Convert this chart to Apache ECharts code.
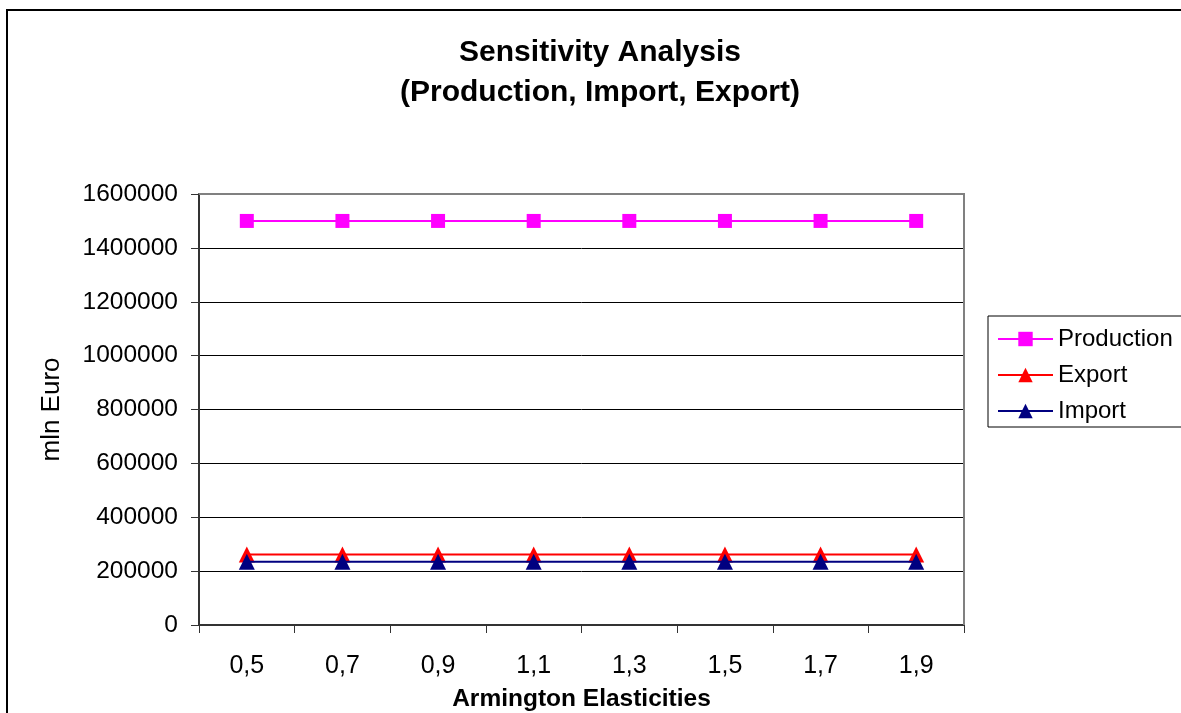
<!DOCTYPE html>
<html>
<head>
<meta charset="utf-8">
<title>Sensitivity Analysis</title>
<script src="https://cdn.jsdelivr.net/npm/echarts@6/dist/echarts.min.js"></script>
<style>
  html, body { margin: 0; padding: 0; background: #fff; }
  #chart { width: 1181px; height: 713px; }
</style>
</head>
<body>
<div id="chart"></div>
<script>
// Armington elasticity values on the category axis
const elasticities = ['0,5', '0,7', '0,9', '1,1', '1,3', '1,5', '1,7', '1,9'];

// Model results in mln Euro for each elasticity
const production = [1500000, 1500000, 1500000, 1500000, 1500000, 1500000, 1500000, 1500000];
const exportVals = [262000, 262000, 262000, 262000, 262000, 262000, 262000, 262000];
const importVals = [235000, 235000, 235000, 235000, 235000, 235000, 235000, 235000];

// Value-axis range
const yMin = 0;
const yMax = 1600000;
const yStep = 200000;

const FONT = '"Liberation Sans", Arial, sans-serif';

const chart = echarts.init(document.getElementById('chart'), null, { renderer: 'canvas' });

const plot = { left: 199, top: 194, right: 964, bottom: 625 };

chart.setOption({
  backgroundColor: '#ffffff',
  animation: false,
  textStyle: { fontFamily: FONT, color: '#000' },
  title: {
    text: 'Sensitivity Analysis\n(Production, Import, Export)',
    left: 595,
    top: 28,
    textAlign: 'center',
    textStyle: {
      fontFamily: FONT,
      fontSize: 30,
      fontWeight: 'bold',
      color: '#000',
      lineHeight: 40
    }
  },
  legend: {
    orient: 'vertical',
    left: 997,
    top: 327,
    padding: 0,
    itemWidth: 55,
    itemHeight: 18,
    itemGap: 12,
    textStyle: { fontFamily: FONT, fontSize: 24, color: '#000', lineHeight: 24 },
    data: ['Production', 'Export', 'Import']
  },
  grid: {
    left: plot.left,
    top: plot.top,
    right: 1181 - plot.right,
    bottom: 713 - plot.bottom,
    containLabel: false,
    outerBoundsMode: 'none'
  },
  xAxis: {
    type: 'category',
    data: elasticities,
    boundaryGap: true,
    name: 'Armington Elasticities',
    nameLocation: 'middle',
    nameGap: 62,
    nameTextStyle: { fontFamily: FONT, fontSize: 24.5, fontWeight: 'bold', color: '#000' },
    axisLine: { show: true, lineStyle: { color: '#333', width: 2 } },
    axisTick: { show: true, inside: false, length: 8, alignWithLabel: false, lineStyle: { color: '#333', width: 1 } },
    axisLabel: { fontFamily: FONT, fontSize: 25, color: '#000', margin: 29 },
    splitLine: { show: false }
  },
  yAxis: {
    type: 'value',
    min: yMin,
    max: yMax,
    interval: yStep,
    name: 'mln Euro',
    nameLocation: 'middle',
    nameGap: 134,
    nameTextStyle: { fontFamily: FONT, fontSize: 26, color: '#000' },
    axisLine: { show: true, lineStyle: { color: '#333', width: 2 } },
    axisTick: { show: true, inside: false, length: 8, lineStyle: { color: '#333', width: 1 } },
    axisLabel: {
      fontFamily: FONT,
      fontSize: 24.5,
      color: '#000',
      margin: 21,
      formatter: (v) => String(v)
    },
    splitLine: { show: true, lineStyle: { color: '#000', width: 1 } }
  },
  series: [
    {
      name: 'Production',
      type: 'line',
      data: production,
      symbol: 'rect',
      symbolSize: 14,
      lineStyle: { color: '#ff00ff', width: 2 },
      itemStyle: { color: '#ff00ff' },
      z: 3
    },
    {
      name: 'Export',
      type: 'line',
      data: exportVals,
      symbol: 'triangle',
      symbolSize: 16,
      lineStyle: { color: '#ff0000', width: 2 },
      itemStyle: { color: '#ff0000' },
      z: 3
    },
    {
      name: 'Import',
      type: 'line',
      data: importVals,
      symbol: 'triangle',
      symbolSize: 16,
      lineStyle: { color: '#000080', width: 2 },
      itemStyle: { color: '#000080' },
      z: 4
    }
  ],
  graphic: [
    // outer chart frame
    {
      type: 'rect',
      shape: { x: 7, y: 10, width: 1300, height: 900 },
      style: { fill: null, stroke: '#000', lineWidth: 2 },
      silent: true,
      z: 1
    },
    // plot area top and right edges
    {
      type: 'polyline',
      shape: { points: [[plot.left, plot.top], [plot.right, plot.top], [plot.right, plot.bottom]] },
      style: { fill: null, stroke: '#808080', lineWidth: 2 },
      silent: true,
      z: 2
    },
    // legend frame
    {
      type: 'rect',
      shape: { x: 988, y: 316, width: 400, height: 111 },
      style: { fill: null, stroke: '#000', lineWidth: 1 },
      silent: true,
      z: 1
    }
  ]
});
</script>
</body>
</html>
